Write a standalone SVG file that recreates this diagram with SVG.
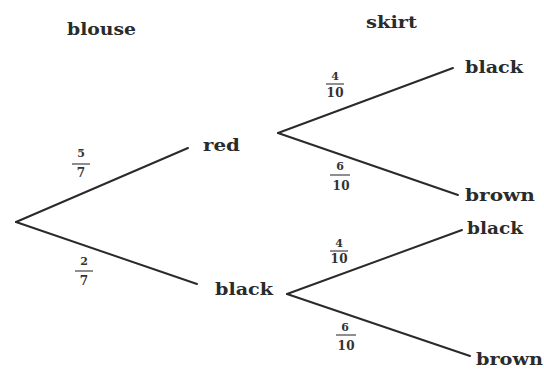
<svg xmlns="http://www.w3.org/2000/svg" width="544" height="387" viewBox="0 0 544 387">
<style>
.lbl{font-family:"DejaVu Serif","Liberation Serif",serif;font-weight:bold;font-size:17px;fill:#2b2b2b}
.num{font-family:"DejaVu Serif","Liberation Serif",serif;font-weight:bold;font-size:11px;fill:#333;text-anchor:middle}
.den{font-family:"DejaVu Serif","Liberation Serif",serif;font-weight:bold;font-size:12px;fill:#333;text-anchor:middle}
.edge{stroke:#2a2a2a;stroke-width:2;fill:none;stroke-linecap:round}
.bar{stroke:#444;stroke-width:1.2}
</style>
<rect width="544" height="387" fill="#ffffff"/>
<g id="heading-blouse"><text class="lbl" x="67" y="35" textLength="69" lengthAdjust="spacingAndGlyphs">blouse</text></g>
<g id="heading-skirt"><text class="lbl" x="366" y="28" textLength="51" lengthAdjust="spacingAndGlyphs">skirt</text></g>
<g id="connectors">
<line class="edge" x1="16" y1="222" x2="188" y2="148"/>
<line class="edge" x1="16" y1="222" x2="197" y2="284"/>
<line class="edge" x1="278" y1="133" x2="453" y2="68"/>
<line class="edge" x1="278" y1="133" x2="458" y2="195"/>
<line class="edge" x1="287" y1="294" x2="462" y2="230"/>
<line class="edge" x1="287" y1="294" x2="470" y2="356"/>
<g id="p-red">
<text class="num" x="81" y="157">5</text><line class="bar" x1="72" y1="164" x2="90" y2="164"/><text class="den" x="81" y="177">7</text>
</g>
<g id="p-black">
<text class="num" x="84" y="265">2</text><line class="bar" x1="75" y1="271" x2="93" y2="271"/><text class="den" x="84" y="285">7</text>
</g>
<g id="p-red-black">
<text class="num" x="335" y="80">4</text><line class="bar" x1="326" y1="84" x2="344" y2="84"/><text class="den" x="335" y="97" textLength="17" lengthAdjust="spacing">10</text>
</g>
<g id="p-red-brown">
<text class="num" x="340" y="170">6</text><line class="bar" x1="330" y1="175" x2="350" y2="175"/><text class="den" x="341" y="190" textLength="17" lengthAdjust="spacing">10</text>
</g>
<g id="p-black-black">
<text class="num" x="339" y="247">4</text><line class="bar" x1="330" y1="251" x2="348" y2="251"/><text class="den" x="339" y="263" textLength="17" lengthAdjust="spacing">10</text>
</g>
<g id="p-black-brown">
<text class="num" x="345" y="331">6</text><line class="bar" x1="336" y1="335" x2="356" y2="335"/><text class="den" x="346" y="350" textLength="17" lengthAdjust="spacing">10</text>
</g>
</g>
<g id="node-red"><text class="lbl" x="203" y="151" textLength="37" lengthAdjust="spacingAndGlyphs">red</text></g>
<g id="node-black"><text class="lbl" x="215" y="295" textLength="58" lengthAdjust="spacingAndGlyphs">black</text></g>
<g id="node-red-black"><text class="lbl" x="465" y="73" textLength="58" lengthAdjust="spacingAndGlyphs">black</text></g>
<g id="node-red-brown"><text class="lbl" x="465" y="201" textLength="70" lengthAdjust="spacingAndGlyphs">brown</text></g>
<g id="node-black-black"><text class="lbl" x="467" y="234" textLength="56" lengthAdjust="spacingAndGlyphs">black</text></g>
<g id="node-black-brown"><text class="lbl" x="476" y="365" textLength="67" lengthAdjust="spacingAndGlyphs">brown</text></g>
</svg>
